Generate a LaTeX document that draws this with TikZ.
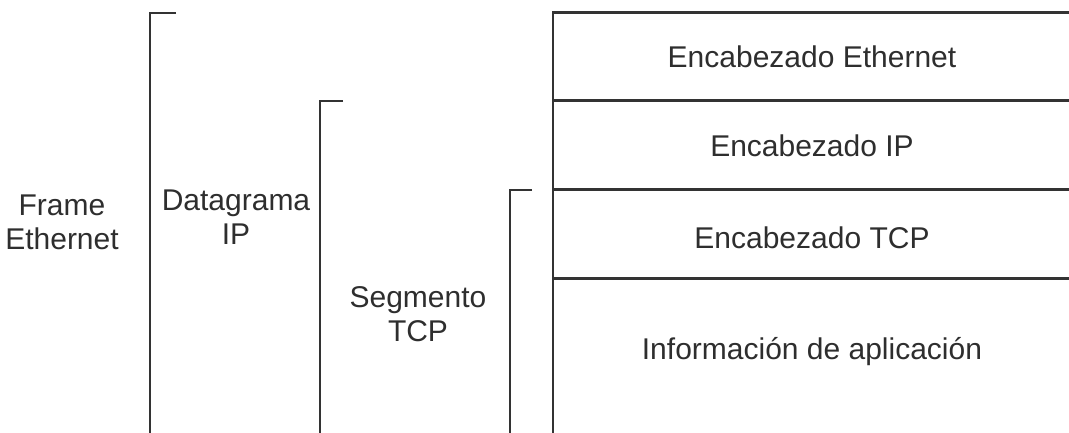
\documentclass[tikz,border=0pt]{standalone}
\usepackage{fontspec}
\setmainfont{Liberation Sans}
\definecolor{ink}{HTML}{333333}
\definecolor{txt}{HTML}{2E2E2E}
\begin{document}
\begin{tikzpicture}[x=1pt,y=-1pt,
  line width=2.1pt,
  rowbox/.style={draw=ink, minimum width=560pt, anchor=north west, inner sep=0pt, outer sep=0pt},
  label/.style={text=txt, align=center, font=\fontsize{30}{34}\selectfont, inner sep=0pt},
  brace/.style={draw=ink, line cap=butt}]
\useasboundingbox (0,0) rectangle (1069,432);
\clip (0,0) rectangle (1069,432);

% stacked headers of the frame
\node[rowbox, minimum height=88pt] (eth) at (553,12.5) {};
\node[rowbox, minimum height=89pt] (ip)  at (eth.south west) {};
\node[rowbox, minimum height=89pt] (tcp) at (ip.south west) {};
\node[rowbox, minimum height=170pt] (app) at (tcp.south west) {};

\node[label] (teth) at (812,57)  {Encabezado Ethernet};
\node[label] (tip)  at (812,146) {Encabezado IP};
\node[label] (ttcp) at (812,238) {Encabezado TCP};
\node[label] (tapp) at (812,352) {Información de aplicación};

% brackets spanning each encapsulation level
\coordinate (fTop) at (150,13);
\coordinate (fEnd) at (150,440);
\coordinate (dTop) at (320,101);
\coordinate (dEnd) at (320,440);
\coordinate (sTop) at (510,190);
\coordinate (sEnd) at (510,440);
\draw[brace] ([xshift=26pt]fTop) -- (fTop) -- (fEnd);
\draw[brace] ([xshift=23pt]dTop) -- (dTop) -- (dEnd);
\draw[brace] ([xshift=22pt]sTop) -- (sTop) -- (sEnd);

\node[label] (frame) at (62,222)  {Frame\\Ethernet};
\node[label] (dgram) at (236,217) {Datagrama\\IP};
\node[label] (segm)  at (418,314) {Segmento\\TCP};
\end{tikzpicture}
\end{document}
